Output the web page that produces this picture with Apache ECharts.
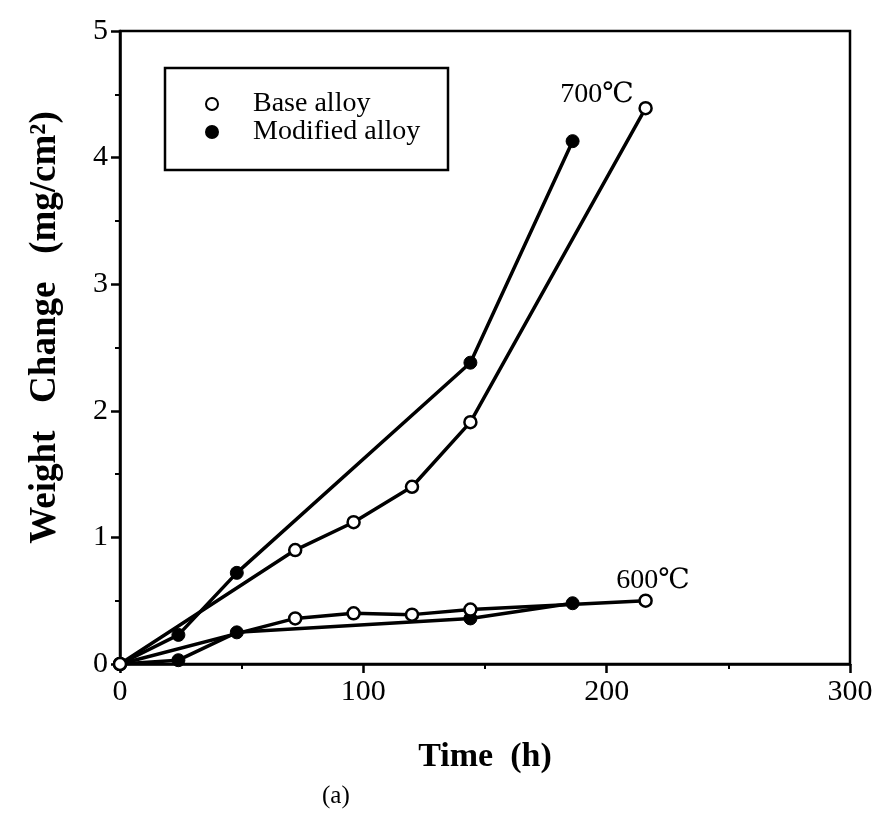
<!DOCTYPE html>
<html>
<head>
<meta charset="utf-8">
<script src="https://cdn.jsdelivr.net/npm/echarts@6/dist/echarts.min.js"></script>
<style>
  html, body { margin: 0; padding: 0; background: #fff; }
  #main { width: 882px; height: 815px; }
</style>
</head>
<body>
<div id="main"></div>
<script>
// time (h) and weight change (mg/cm2)
var base700T = [0, 72, 96, 120, 144, 216];
var base700W = [0, 0.90, 1.12, 1.40, 1.91, 4.39];
var mod700T = [0, 24, 48, 144, 186];
var mod700W = [0, 0.23, 0.72, 2.38, 4.13];
var base600T = [0, 72, 96, 120, 144, 216];
var base600W = [0, 0.36, 0.40, 0.39, 0.43, 0.50];
var mod600T = [0, 24, 48, 144, 186];
var mod600W = [0, 0.03, 0.25, 0.36, 0.48];

var serif = "'Liberation Serif', 'DejaVu Serif', serif";

function pairs(t, w){
    return t.map(function(v, i){ return [v, w[i]]; });
}

var openStyle = {color: '#fff', borderColor: '#000', borderWidth: 2.5};
var fillStyle = {color: '#000', borderColor: '#000', borderWidth: 1};

function lineSeries(name, data, filled, label){
    var s = {
        name: name,
        type: 'line',
        data: data,
        symbol: 'circle',
        symbolSize: filled ? 13 : 12,
        itemStyle: filled ? fillStyle : openStyle,
        lineStyle: {color: '#000', width: 3.5},
        z: filled ? 3 : 4
    };
    if (label) {
        s.markPoint = {
            symbol: 'circle',
            symbolSize: 0,
            label: {
                show: true, position: 'inside', formatter: label.text,
                color: '#000', fontFamily: serif, fontSize: 28
            },
            data: [{coord: label.coord}]
        };
    }
    return s;
}

var myChart = echarts.init(document.getElementById('main'));
var option = {
    animation: false,
    backgroundColor: '#fff',
    grid: {
        left: 120, right: 32, top: 31, bottom: 151,
        show: true, borderColor: '#000', borderWidth: 2.5
    },
    legend: {
        data: ['Base alloy', 'Modified alloy'],
        orient: 'vertical',
        left: 200, top: 85,
        icon: 'circle',
        itemWidth: 12, itemHeight: 12, itemGap: 0,
        textStyle: {fontFamily: serif, fontSize: 28, lineHeight: 27, color: '#000', padding: [0, 0, 0, 30]}
    },
    xAxis: {
        type: 'value', min: 0, max: 300, interval: 100,
        name: 'Time  (h)', nameLocation: 'middle', nameGap: 76,
        nameTextStyle: {fontFamily: serif, fontSize: 34, fontWeight: 'bold', color: '#000'},
        axisLine: {lineStyle: {color: '#000', width: 2.5}},
        axisTick: {inside: false, length: 9, lineStyle: {color: '#000', width: 2.5}},
        minorTick: {show: true, splitNumber: 2, length: 5, lineStyle: {color: '#000', width: 2}},
        splitLine: {show: false},
        axisLabel: {fontFamily: serif, fontSize: 30, color: '#000', margin: 13}
    },
    yAxis: {
        type: 'value', min: 0, max: 5, interval: 1,
        name: 'Weight   Change   (mg/cm²)', nameLocation: 'middle', nameGap: 56,
        nameTextStyle: {fontFamily: serif, fontSize: 37, fontWeight: 'bold', color: '#000', padding: [0, 0, 0, 40]},
        axisLine: {lineStyle: {color: '#000', width: 2.5}},
        axisTick: {inside: false, length: 9, lineStyle: {color: '#000', width: 2.5}},
        minorTick: {show: true, splitNumber: 2, length: 5, lineStyle: {color: '#000', width: 2}},
        splitLine: {show: false},
        axisLabel: {fontFamily: serif, fontSize: 30, color: '#000', margin: 12}
    },
    graphic: [
        {
            type: 'rect',
            shape: {x: 165, y: 68, width: 283, height: 102},
            style: {fill: 'none', stroke: '#000', lineWidth: 2.5},
            z: 10
        },
        {
            type: 'text', left: 322, top: 784,
            style: {text: '(a)', font: '25px ' + serif, fill: '#000'}
        }
    ],
    series: [
        lineSeries('Base alloy', pairs(base700T, base700W), false, {text: '700℃', coord: [196, 4.5]}),
        lineSeries('Modified alloy', pairs(mod700T, mod700W), true),
        lineSeries('Base alloy', pairs(base600T, base600W), false, {text: '600℃', coord: [219, 0.66]}),
        lineSeries('Modified alloy', pairs(mod600T, mod600W), true)
    ]
};
myChart.setOption(option);
</script>
</body>
</html>
